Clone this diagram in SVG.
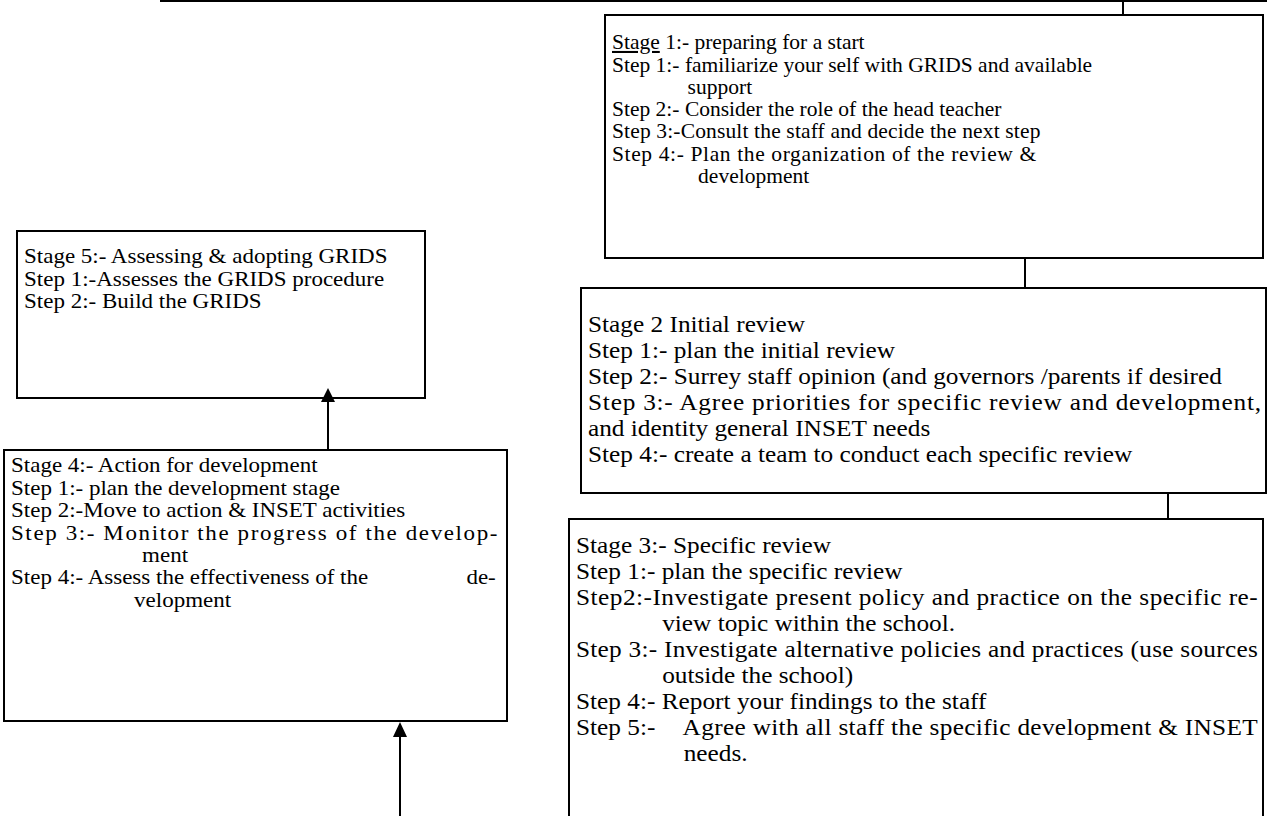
<svg xmlns="http://www.w3.org/2000/svg" width="1267" height="816" viewBox="0 0 1267 816">
<defs>
<style>
.box{fill:#fff;stroke:#000;stroke-width:2}
.ln{stroke:#000;stroke-width:2;fill:none}
.ah{fill:#000}
text{font-family:"Liberation Serif","Times New Roman",serif;fill:#000}
.s1{font-size:20.5px}
.s2{font-size:23.5px}
.s3{font-size:23.5px}
.s4{font-size:20px}
.s5{font-size:20px}
</style>
</defs>
<rect width="1267" height="816" fill="#fff"/>
<g id="stage1">
<rect class="box" x="605" y="15" width="658" height="243"/>
<g class="s1" transform="translate(612,0) scale(1.05,1)">
<text x="0" y="49"><tspan text-decoration="underline">Stage</tspan> 1:- preparing for a start</text>
<text x="0" y="72">Step 1:- familiarize your self with GRIDS and available</text>
<text x="72" y="94">support</text>
<text x="0" y="116">Step 2:- Consider the role of the head teacher</text>
<text x="0" y="138" textLength="408" lengthAdjust="spacing">Step 3:-Consult the staff and decide the next step</text>
<text x="0" y="161" textLength="404" lengthAdjust="spacing">Step 4:- Plan the organization of the review &amp;</text>
<text x="82" y="183">development</text>
</g>
</g>
<g id="stage2">
<rect class="box" x="581" y="288" width="685" height="205"/>
<g class="s2" transform="translate(588,0) scale(1.077,1)">
<text x="0" y="332">Stage 2 Initial review</text>
<text x="0" y="358">Step 1:- plan the initial review</text>
<text x="0" y="384">Step 2:- Surrey staff opinion (and governors /parents if desired</text>
<text x="0" y="410" textLength="625" lengthAdjust="spacing">Step 3:- Agree priorities for specific review and development,</text>
<text x="0" y="436">and identity general INSET needs</text>
<text x="0" y="462">Step 4:- create a team to conduct each specific review</text>
</g>
</g>
<g id="stage3">
<rect class="box" x="569" y="519" width="694" height="310"/>
<g class="s3" transform="translate(576,0) scale(1.077,1)">
<text x="0" y="553">Stage 3:- Specific review</text>
<text x="0" y="579">Step 1:- plan the specific review</text>
<text x="0" y="605" textLength="633" lengthAdjust="spacing">Step2:-Investigate present policy and practice on the specific re-</text>
<text x="80" y="631">view topic within the school.</text>
<text x="0" y="657" textLength="633" lengthAdjust="spacing">Step 3:- Investigate alternative policies and practices (use sources</text>
<text x="80" y="683">outside the school)</text>
<text x="0" y="709">Step 4:- Report your findings to the staff</text>
<text x="0" y="735">Step 5:-</text>
<text x="99" y="735" textLength="534" lengthAdjust="spacing">Agree with all staff the specific development &amp; INSET</text>
<text x="100" y="761">needs.</text>
</g>
</g>
<g id="stage5">
<rect class="box" x="17" y="231" width="408" height="167"/>
<g class="s5" transform="translate(24,0) scale(1.15,1)">
<text x="0" y="263">Stage 5:- Assessing &amp; adopting GRIDS</text>
<text x="0" y="286">Step 1:-Assesses the GRIDS procedure</text>
<text x="0" y="308">Step 2:- Build the GRIDS</text>
</g>
</g>
<g id="stage4">
<rect class="box" x="4" y="450" width="503" height="271"/>
<g class="s4" transform="translate(11,0) scale(1.15,1)">
<text x="0" y="472">Stage 4:- Action for development</text>
<text x="0" y="495">Step 1:- plan the development stage</text>
<text x="0" y="517">Step 2:-Move to action &amp; INSET activities</text>
<text x="0" y="540" textLength="423" lengthAdjust="spacing">Step 3:- Monitor the progress of the develop-</text>
<text x="114" y="562">ment</text>
<text x="0" y="584">Step 4:- Assess the effectiveness of the</text>
<text x="396" y="584">de-</text>
<text x="107" y="607">velopment</text>
</g>
</g>
<g id="connectors">
<line class="ln" x1="160" y1="1" x2="1267" y2="1"/>
<line class="ln" x1="1123" y1="1" x2="1123" y2="15"/>
<line class="ln" x1="1025" y1="258" x2="1025" y2="288"/>
<line class="ln" x1="1168" y1="493" x2="1168" y2="519"/>
<line class="ln" x1="328" y1="450" x2="328" y2="400"/>
<path class="ah" d="M321,402 L335,402 L328,388 z"/>
<line class="ln" x1="400" y1="816" x2="400" y2="736"/>
<path class="ah" d="M393,737 L407,737 L400,722 z"/>
</g>
</svg>
